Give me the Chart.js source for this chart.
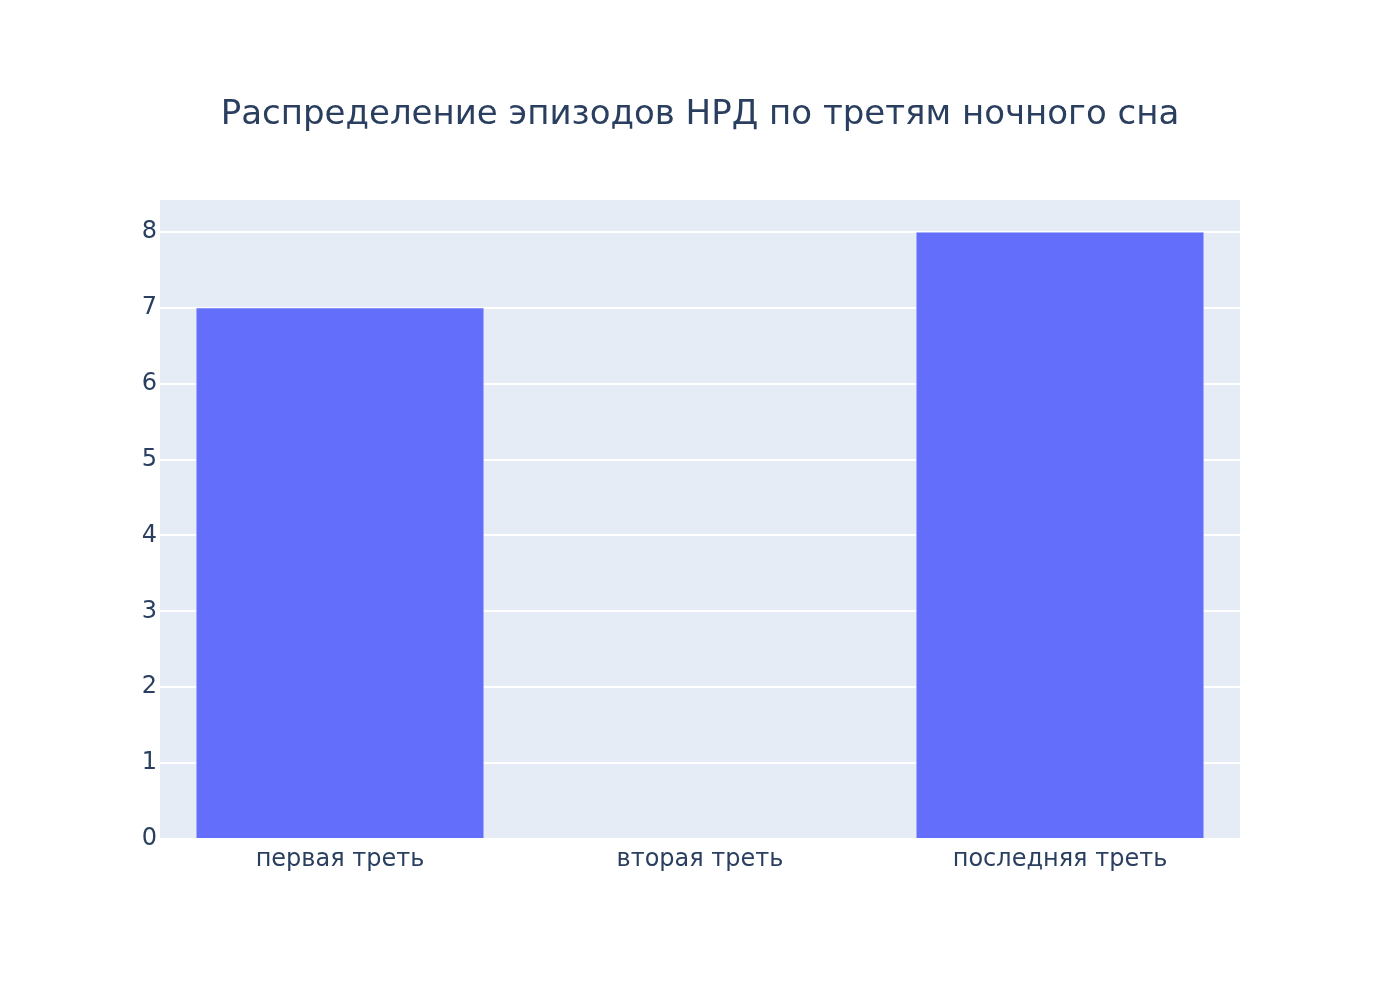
<!DOCTYPE html>
<html><head><meta charset="utf-8">
<script src="https://cdn.jsdelivr.net/npm/chart.js@4"></script>
<style>html,body{margin:0;padding:0;background:#fff}canvas{display:block}</style>
</head><body>
<canvas id="c" width="1400" height="1000"></canvas>
<script>
const titleText = "Распределение эпизодов НРД по третям ночного сна";
const categories = ["первая треть", "вторая треть", "последняя треть"];
const values = [7, 0, 8];
const yTicks = [0, 1, 2, 3, 4, 5, 6, 7, 8];

const FONT = "'DejaVu Sans', sans-serif";
const TXT = "#2a3f5f";

const bgPlugin = {
  id: 'bg',
  beforeDraw(chart) {
    const {ctx, chartArea: a} = chart;
    ctx.save();
    ctx.fillStyle = '#ffffff';
    ctx.fillRect(0, 0, chart.width, chart.height);
    ctx.fillStyle = '#E5ECF6';
    ctx.fillRect(a.left, a.top, a.right - a.left, a.bottom - a.top);
    ctx.restore();
  }
};

new Chart(document.getElementById('c'), {
  type: 'bar',
  data: {
    labels: categories,
    datasets: [{
      data: values,
      backgroundColor: '#636efa',
      borderColor: '#E5ECF6',
      borderWidth: 0.5,
      categoryPercentage: 1.0,
      barPercentage: 0.8,
      yAxisID: 'y'
    }]
  },
  options: {
    responsive: false,
    animation: false,
    devicePixelRatio: 1,
    layout: { padding: 0 },
    plugins: {
      legend: { display: false },
      tooltip: { enabled: false },
      title: {
        display: true,
        text: titleText,
        color: TXT,
        font: { family: FONT, size: 34, weight: 'normal', lineHeight: 1.2 },
        padding: { top: 94.6, bottom: 64.6 }
      }
    },
    scales: {
      x: {
        grid: { display: false, drawTicks: false },
        border: { display: false },
        ticks: { color: TXT, font: { family: FONT, size: 24 }, padding: 6 },
        afterFit(s) { s.height = 161; }
      },
      y: {
        min: 0,
        max: 8.4211,
        afterBuildTicks(s) { s.ticks = yTicks.map(v => ({ value: v })); },
        grid: { color: '#ffffff', lineWidth: 2, drawTicks: false },
        border: { display: false },
        ticks: { color: TXT, font: { family: FONT, size: 24 }, padding: 3 },
        afterFit(s) { s.width = 160; }
      },
      yr: {
        position: 'right',
        display: true,
        grid: { display: false, drawTicks: false },
        border: { display: false },
        ticks: { display: false },
        afterFit(s) { s.width = 160; }
      }
    }
  },
  plugins: [bgPlugin]
});
</script>
</body></html>
